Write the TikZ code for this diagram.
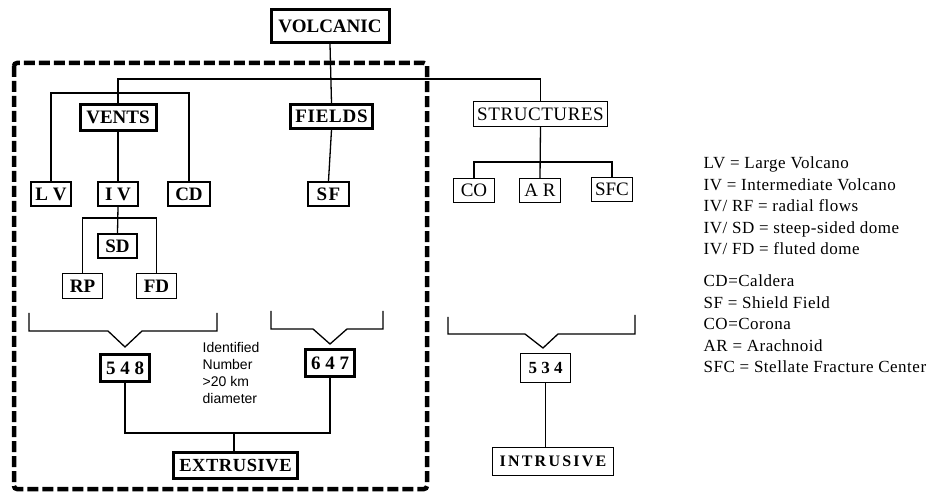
\documentclass[tikz,border=0pt]{standalone}
\usepackage{fontspec}
\setmainfont{Liberation Serif}
\newfontfamily\legendfont[LetterSpace=3]{Liberation Serif}
\newfontfamily\notefont{Liberation Sans}
\usetikzlibrary{positioning}

\begin{document}
\begin{tikzpicture}[
  x=1pt, y=-1pt,
  line width=1.3pt,
  every node/.style={font=\bfseries\fontsize{19}{20}\selectfont},
  box/.style={draw, fill=white, line width=1.4pt, inner sep=0pt},
  midbox/.style={box, line width=2pt},
  bigbox/.style={box, line width=3pt},
  frame/.style={line width=4.5pt, dash pattern=on 11pt off 4pt, rounded corners=3pt}
]
\useasboundingbox (0,0) rectangle (938,497);
% extrusive group
\draw[frame] (14,63) rectangle (427,489);

\node[bigbox, minimum width=118pt, minimum height=33pt] (volc) at (330,26) {VOLCANIC};
\node[bigbox, minimum width=76pt, minimum height=26pt] (vents) at (118,117.5) {VENTS};
\node[bigbox, minimum width=82pt, minimum height=24pt, font=\bfseries\fontsize{19}{20}\selectfont\addfontfeatures{LetterSpace=4}] (fields) at (331.5,116.5) {FIELDS};
\node[box, minimum width=133.5pt, minimum height=24.5pt, font=\fontsize{19}{20}\selectfont\addfontfeatures{LetterSpace=3}] (struct) at (540.5,114) {STRUCTURES};

\node[midbox, minimum width=40pt, minimum height=24pt] (lv) at (51,194) {L V};
\node[midbox, minimum width=40pt, minimum height=24pt] (iv) at (118,194) {I V};
\node[midbox, minimum width=42pt, minimum height=24pt] (cd) at (189,194) {CD};
\node[midbox, minimum width=41pt, minimum height=24pt, font=\bfseries\fontsize{19}{20}\selectfont\addfontfeatures{LetterSpace=8}] (sf) at (328.5,194) {SF};
\node[midbox, minimum width=39pt, minimum height=24pt] (sd) at (117.5,246) {SD};
\node[box, minimum width=39.5pt, minimum height=24.5pt] (rp) at (82.5,286) {RP};
\node[box, minimum width=39.5pt, minimum height=24.5pt] (fd) at (156.5,286) {FD};

\node[box, minimum width=40.5pt, minimum height=23.5pt, font=\fontsize{19}{20}\selectfont] (co) at (474,190.5) {CO};
\node[box, minimum width=40.5pt, minimum height=23.5pt, font=\fontsize{19}{20}\selectfont] (ar) at (540,190.5) {A R};
\node[box, minimum width=40.5pt, minimum height=23.5pt, font=\fontsize{19}{20}\selectfont] (sfc) at (612,189.5) {SFC};

\node[bigbox, minimum width=49pt, minimum height=27pt] (n548) at (125,368) {5 4 8};
\node[bigbox, minimum width=49pt, minimum height=27pt] (n647) at (330,363) {6 4 7};
\node[box, minimum width=49.5pt, minimum height=28.5pt, font=\bfseries\fontsize{17}{20}\selectfont] (n534) at (545.5,368) {5 3 4};

\node[bigbox, minimum width=124pt, minimum height=26pt, font=\bfseries\fontsize{18.5}{20}\selectfont\addfontfeatures{LetterSpace=3}] (extr) at (235.5,465.5) {EXTRUSIVE};
\node[box, minimum width=120.5pt, minimum height=27.5pt, font=\bfseries\fontsize{16}{20}\selectfont\addfontfeatures{LetterSpace=14}] (intr) at (553,461.5) {INTRUSIVE};

% tree lines
\draw (volc.south) -- (fields.north);
\draw (vents.north) -- ++(0,-24) -| (struct.north);
\coordinate (ventbus) at (118,93);
\draw (lv.north) |- (ventbus) -| (cd.north);
\draw (vents.south) -- (iv.north);
\coordinate (ivbus) at (118,218);
\draw (iv.south) -- (sd.north);
\draw (rp.north) |- (ivbus) -| (fd.north);
\draw (fields.south) -- (sf.north);
\coordinate (structbus) at (540,162);
\draw (struct.south) -- (ar.north);
\draw (co.north) |- (structbus) -| (sfc.north);

% brackets
\draw (29,313) -- (29,331) -- (108,331) -- (125,347) -- (142,331) -- (217,331) -- (217,313);
\draw (271,311) -- (271,329) -- (313,329) -- (330,344) -- (347,329) -- (383,329) -- (383,311);
\draw (448,317) -- (448,334) -- (525,334) -- (543,348) -- (558,334) -- (635,334) -- (635,315);

\coordinate (extrbus) at (234,433);
\draw (n548.south) |- (extrbus) -| (n647.south);
\draw (extrbus) -- (extrbus |- extr.north);
\draw (n534.south) -- (n534.south |- intr.north);

\node[font=\notefont\fontsize{14}{17}\selectfont, align=left, anchor=north west, inner sep=0pt] (note) at (202,342) {Identified\\Number\\>20 km\\diameter};

\node[font=\legendfont\fontsize{17}{21.6}\selectfont, align=left, anchor=north west, inner sep=0pt] (legend) at (703,156) {LV = Large Volcano\\
IV = Intermediate Volcano\\
IV/ RF = radial flows\\
IV/ SD = steep-sided dome\\
IV/ FD = fluted dome\\[10pt]
CD=Caldera\\
SF = Shield Field\\
CO=Corona\\
AR = Arachnoid\\
SFC = Stellate Fracture Center};
\end{tikzpicture}
\end{document}
